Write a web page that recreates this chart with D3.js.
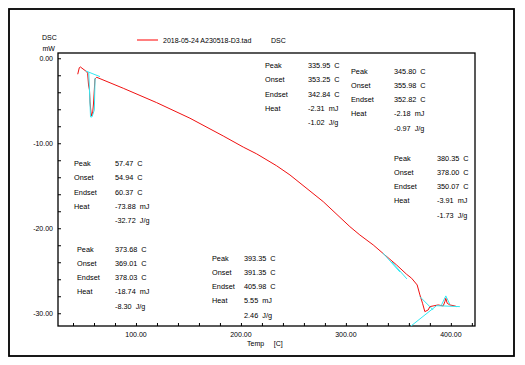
<!DOCTYPE html>
<html>
<head>
<meta charset="utf-8">
<script src="https://cdn.jsdelivr.net/npm/d3@7"></script>
<style>
  body { margin: 0; background: #fff; }
  text { font-family: "Liberation Sans", Arial, sans-serif; fill: #000; }
</style>
</head>
<body>
<div id="chart"></div>
<script>
// DSC curve (temperature C, heat flow mW)
const temp = [44.5, 46.0, 47.0, 53.0, 53.9, 54.8, 55.7, 56.2, 57.1, 57.8, 58.8, 59.5, 60.3, 60.9, 62.6,
  87.9, 119.7, 151.4, 183.1, 202.2, 215.0, 234.0, 246.7, 278.4, 303.8, 313.3, 326.0, 337.1, 348.3,
  357.8, 362.6, 367.9, 370.5, 373.0, 375.2, 378.4, 380.0, 383.1, 387.9, 392.7, 394.3, 395.2, 396.5,
  399.0, 403.8, 405.4];
const dsc = [-1.88, -1.11, -1.02, -1.58, -1.76, -3.14, -3.73, -5.14, -6.32, -6.79, -6.32, -5.38, -3.73, -2.44, -2.24,
  -3.53, -5.22, -7.05, -9.14, -10.45, -11.25, -12.65, -13.73, -16.87, -19.81, -20.79, -21.96, -23.14, -24.32,
  -25.41, -25.88, -26.67, -27.84, -28.82, -29.81, -29.61, -29.22, -29.14, -29.02, -29.14, -28.64, -28.24, -28.82,
  -29.02, -29.14, -29.22];

// evaluation lines (cyan), each [temps, values]
const evalLines = [
  [[52.1, 65.7], [-1.49, -2.16]],
  [[55.0, 56.7, 58.1, 60.3, 61.0], [-1.67, -6.9, -6.9, -6.08, -2.32]],
  [[335.2, 351.4], [-22.9, -25.14]],
  [[343.8, 358.1], [-23.96, -25.96]],
  [[370.5, 383.1], [-28.05, -29.61]],
  [[362.0, 386.4, 408.6], [-31.5, -29.11, -29.22]],
  [[391.1, 395.2, 399.0], [-29.02, -27.96, -28.94]]
];

const xTicks = [100, 200, 300, 400];
const yTicks = [0, -10, -20, -30];

const fieldNames = ['Peak', 'Onset', 'Endset', 'Heat'];
const peakVals = [
  ['335.95  C', '353.25  C', '342.84  C', '-2.31  mJ', '-1.02  J/g'],
  ['345.80  C', '355.98  C', '352.82  C', '-2.18  mJ', '-0.97  J/g'],
  ['57.47  C', '54.94  C', '60.37  C', '-73.88  mJ', '-32.72  J/g'],
  ['380.35  C', '378.00  C', '350.07  C', '-3.91  mJ', '-1.73  J/g'],
  ['373.68  C', '369.01  C', '378.03  C', '-18.74  mJ', '-8.30  J/g'],
  ['393.35  C', '391.35  C', '405.98  C', '5.55  mJ', '2.46  J/g']
];
// label x, value x, first row y
const boxPos = [[265, 308, 65.5], [351, 394, 71], [74, 115, 163.5], [394, 437, 158], [77, 115, 249], [212, 244, 258]];

const W = 525, H = 365;
const mLeft = 58, mRight = 475, mTop = 53, mBottom = 326;

const svg = d3.select('#chart').append('svg').attr('width', W).attr('height', H);

const x = d3.scaleLinear().domain([25.7, 423]).range([mLeft, mRight]);
const y = d3.scaleLinear().domain([0.62, -31.5]).range([mTop, mBottom]);

// outer frame
svg.append('rect').attr('x', 9).attr('y', 9).attr('width', 505).attr('height', 347)
   .attr('fill', 'none').attr('stroke', '#000').attr('stroke-width', 1.8);

// axes (ticks inward)
const xAxis = d3.axisTop(x).tickValues(d3.range(40, 421, 20)).tickSize(3).tickFormat('');
svg.append('g').attr('transform', `translate(0,${mBottom})`).call(xAxis)
   .call(g => g.select('.domain').remove())
   .selectAll('line').attr('stroke', '#000');
const yAxis = d3.axisRight(y).tickValues(d3.range(0, -31, -2)).tickSize(3).tickFormat('');
svg.append('g').attr('transform', `translate(${mLeft},0)`).call(yAxis)
   .call(g => g.select('.domain').remove())
   .selectAll('line').attr('stroke', '#000');

svg.selectAll('.xl').data(xTicks).enter().append('text')
   .attr('x', d => x(d)).attr('y', mBottom + 10.5).attr('text-anchor', 'middle')
   .attr('font-size', 7).text(d => d.toFixed(2));
svg.selectAll('.yl').data(yTicks).enter().append('text')
   .attr('x', mLeft - 5).attr('y', d => y(d) + 2.6).attr('text-anchor', 'end')
   .attr('font-size', 7).text(d => d.toFixed(2));

// plot frame
svg.append('rect').attr('x', mLeft).attr('y', mTop).attr('width', mRight - mLeft).attr('height', mBottom - mTop)
   .attr('fill', 'none').attr('stroke', '#000').attr('stroke-width', 1.3);

// axis titles
svg.append('text').attr('x', 42).attr('y', 40).attr('font-size', 7).text('DSC');
svg.append('text').attr('x', 42.5).attr('y', 51).attr('font-size', 7).text('mW');
svg.append('text').attr('x', 247).attr('y', 345.5).attr('font-size', 7).attr('xml:space', 'preserve').text('Temp     [C]');

// legend
svg.append('line').attr('x1', 137).attr('x2', 158).attr('y1', 40).attr('y2', 40)
   .attr('stroke', '#ff0000').attr('stroke-width', 1);
svg.append('text').attr('x', 163).attr('y', 42.5).attr('font-size', 7).text('2018-05-24 A230518-D3.tad');
svg.append('text').attr('x', 271).attr('y', 42.5).attr('font-size', 7).text('DSC');

const line = d3.line().x(d => x(d[0])).y(d => y(d[1]));
const plot = svg.append('g');

plot.append('path').datum(d3.zip(temp, dsc))
    .attr('d', line).attr('fill', 'none').attr('stroke', '#f01010').attr('stroke-width', 1);

evalLines.forEach(s => {
  plot.append('path').datum(d3.zip(s[0], s[1]))
      .attr('d', line).attr('fill', 'none').attr('stroke', '#33e8f2').attr('stroke-width', 1);
});

// annotation boxes
const rowH = 14.2;
peakVals.forEach((vals, i) => {
  const [lx, vx, y0] = boxPos[i];
  const g = svg.append('g');
  fieldNames.forEach((f, j) => {
    g.append('text').attr('x', lx).attr('y', y0 + j * rowH + 2.7).attr('font-size', 7.3).text(f);
  });
  vals.forEach((v, j) => {
    g.append('text').attr('x', vx).attr('y', y0 + j * rowH + 2.7).attr('font-size', 7.3)
     .attr('xml:space', 'preserve').text(v);
  });
});
</script>
</body>
</html>
